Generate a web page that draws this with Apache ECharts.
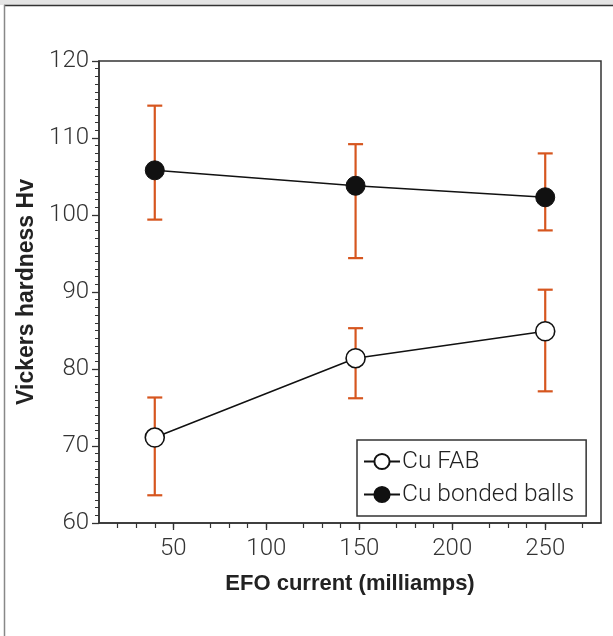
<!DOCTYPE html>
<html>
<head>
<meta charset="utf-8">
<script src="https://cdn.jsdelivr.net/npm/echarts@6/dist/echarts.min.js"></script>
<style>html,body{margin:0;padding:0;background:#fff;}#c{width:613px;height:636px;}</style>
</head>
<body>
<div id="c"></div>
<script>
const xValues = [40, 148, 250];
const fabMean = [71.1, 81.4, 84.9];
const fabLow = [63.6, 76.2, 77.1];
const fabHigh = [76.3, 85.3, 90.3];
const bondedMean = [105.8, 103.8, 102.3];
const bondedLow = [99.4, 94.4, 98.0];
const bondedHigh = [114.2, 109.2, 108.0];
const xTicks = [50, 100, 150, 200, 250];
const yTicks = [60, 70, 80, 90, 100, 110, 120];

const ERR = '#d6561f';
const FONT = 'Liberation Sans, Arial, sans-serif';
const LIGHT = 'Roboto, Liberation Sans, sans-serif';

function errData(low, high) {
  return xValues.map((x, i) => [x, low[i], high[i]]);
}
function errRender(params, api) {
  const x = api.value(0);
  const lo = api.coord([x, api.value(1)]);
  const hi = api.coord([x, api.value(2)]);
  const w = 7.5;
  const style = { stroke: ERR, lineWidth: 2.2, fill: null };
  return {
    type: 'group',
    children: [
      { type: 'line', shape: { x1: lo[0], y1: lo[1], x2: hi[0], y2: hi[1] }, style },
      { type: 'line', shape: { x1: hi[0] - w, y1: hi[1], x2: hi[0] + w, y2: hi[1] }, style },
      { type: 'line', shape: { x1: lo[0] - w, y1: lo[1], x2: lo[0] + w, y2: lo[1] }, style }
    ]
  };
}

const chart = echarts.init(document.getElementById('c'), null, { renderer: 'canvas' });
chart.setOption({
  animation: false,
  backgroundColor: '#fff',
  textStyle: { fontFamily: FONT },
  graphic: [
    { type: 'rect', shape: { x: 0, y: 0, width: 613, height: 5 }, style: { fill: '#e4e4e4' }, silent: true },
    { type: 'line', shape: { x1: 4, y1: 5.5, x2: 613, y2: 5.5 }, style: { stroke: '#333', lineWidth: 1.5 }, silent: true },
    { type: 'line', shape: { x1: 4.5, y1: 5, x2: 4.5, y2: 636 }, style: { stroke: '#888', lineWidth: 1.5 }, silent: true }
  ],
  grid: {
    left: 99, right: 12, top: 61, bottom: 113,
    show: true, borderColor: '#333', borderWidth: 1.5, backgroundColor: 'transparent'
  },
  legend: {
    orient: 'vertical',
    left: 357, top: 440,
    padding: [9, 12, 9, 6],
    itemGap: 8,
    itemWidth: 36, itemHeight: 19,
    borderColor: '#333', borderWidth: 1.5,
    backgroundColor: '#fff',
    textStyle: { fontSize: 24.5, fontWeight: 300, color: '#222', fontFamily: LIGHT, padding: [0, 0, 0, -3] },
    data: ['Cu FAB', 'Cu bonded balls']
  },
  xAxis: {
    type: 'value', min: 10, max: 280, interval: 50,
    name: 'EFO current (milliamps)', nameLocation: 'middle', nameGap: 50,
    nameTextStyle: { fontSize: 22, fontWeight: 'bold', color: '#222', fontFamily: FONT },
    axisLine: { lineStyle: { color: '#333', width: 1.5 } },
    axisTick: { show: true, length: 7, lineStyle: { color: '#333', width: 1.3 }, customValues: xTicks },
    minorTick: { show: true, splitNumber: 5, length: 5, lineStyle: { color: '#333', width: 1.2 } },
    axisLabel: { fontSize: 24, fontWeight: 300, fontFamily: LIGHT, color: '#333', margin: 14, customValues: xTicks },
    splitLine: { show: false }
  },
  yAxis: {
    type: 'value', min: 60, max: 120, interval: 10,
    name: 'Vickers hardness Hv', nameLocation: 'middle', nameGap: 56,
    nameTextStyle: { fontSize: 23, fontWeight: 'bold', color: '#222', fontFamily: FONT },
    axisLine: { lineStyle: { color: '#333', width: 1.5 } },
    axisTick: { show: true, length: 7, lineStyle: { color: '#333', width: 1.3 } },
    minorTick: { show: true, splitNumber: 10, length: 4, lineStyle: { color: '#333', width: 1 } },
    axisLabel: { fontSize: 24, fontWeight: 300, fontFamily: LIGHT, color: '#333', margin: 10, formatter: v => yTicks.includes(v) ? String(v) : '' },
    splitLine: { show: false }
  },
  series: [
    {
      type: 'custom', name: 'fabErr', renderItem: errRender, data: errData(fabLow, fabHigh),
      encode: { x: 0, y: [1, 2] }, z: 2, silent: true
    },
    {
      type: 'custom', name: 'bondedErr', renderItem: errRender, data: errData(bondedLow, bondedHigh),
      encode: { x: 0, y: [1, 2] }, z: 2, silent: true
    },
    {
      type: 'line', name: 'Cu FAB', data: xValues.map((x, i) => [x, fabMean[i]]),
      symbol: 'circle', symbolSize: 19, z: 5,
      lineStyle: { color: '#111', width: 1.5 },
      itemStyle: { color: '#fff', borderColor: '#111', borderWidth: 1.6 }
    },
    {
      type: 'line', name: 'Cu bonded balls', data: xValues.map((x, i) => [x, bondedMean[i]]),
      symbol: 'circle', symbolSize: 19, z: 5,
      lineStyle: { color: '#111', width: 1.5 },
      itemStyle: { color: '#111', borderColor: '#111', borderWidth: 1 }
    }
  ]
});
</script>
</body>
</html>
